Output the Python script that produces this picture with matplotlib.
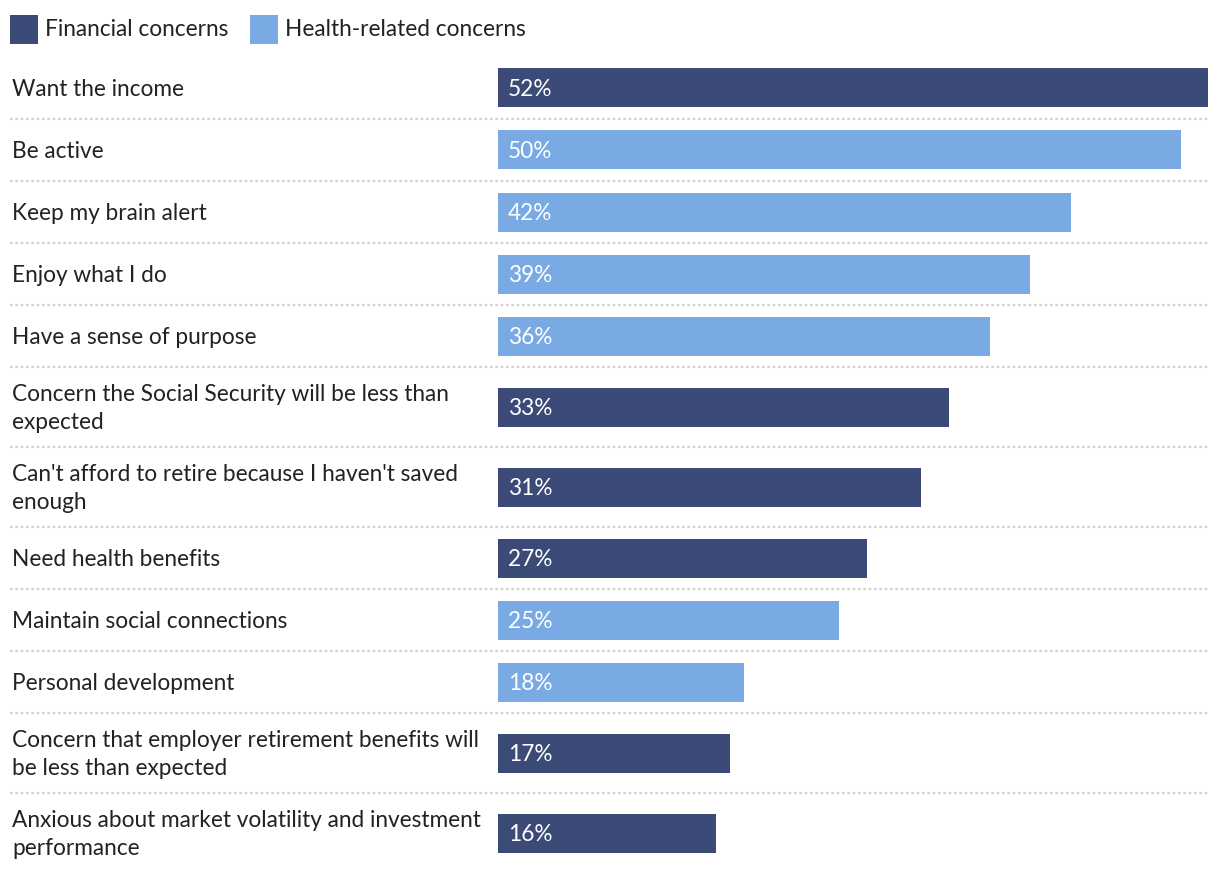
import matplotlib
matplotlib.use("Agg")
import matplotlib.pyplot as plt
from matplotlib.patches import Rectangle

# data
labels = [
    "Want the income",
    "Be active",
    "Keep my brain alert",
    "Enjoy what I do",
    "Have a sense of purpose",
    "Concern the Social Security will be less than\nexpected",
    "Can't afford to retire because I haven't saved\nenough",
    "Need health benefits",
    "Maintain social connections",
    "Personal development",
    "Concern that employer retirement benefits will\nbe less than expected",
    "Anxious about market volatility and investment\nperformance",
]
values = [52, 50, 42, 39, 36, 33, 31, 27, 25, 18, 17, 16]
groups = ["fin", "health", "health", "health", "health", "fin", "fin",
          "fin", "health", "health", "fin", "fin"]
legend_names = {"fin": "Financial concerns", "health": "Health-related concerns"}
colors = {"fin": "#3c4a77", "health": "#79aae4"}

FONT = "Lato"
FS = 16.3
TEXT = "#222222"
W, H = 1220, 872

fig = plt.figure(figsize=(W / 100, H / 100), dpi=100)
fig.patch.set_facecolor("white")

# background axes in pixel units for labels, separators, legend
bg = fig.add_axes([0, 0, 1, 1])
bg.set_xlim(0, W)
bg.set_ylim(H, 0)
bg.axis("off")

# bar axes
x0, x1 = 498, 1208
ax = fig.add_axes([x0 / W, 0, (x1 - x0) / W, 1])
ax.set_xlim(0, max(values))
ax.set_ylim(H, 0)
ax.axis("off")

# row layout (pixels)
top = 57
centers = []
bottoms = []
y = top
for lab in labels:
    h = 80 if "\n" in lab else 62
    centers.append(y + h / 2)
    y += h
    bottoms.append(y)

bar_h = 39
for lab, v, g, c, b in zip(labels, values, groups, centers, bottoms):
    ax.barh(c, v, height=bar_h, color=colors[g], linewidth=0)
    ax.text(0.73, c + 1.5, f"{v}%", color="white", fontsize=FS, family=FONT,
            va="center", ha="left")
    bg.text(12, c + 1.5, lab, color=TEXT, fontsize=FS, family=FONT,
            va="center", ha="left", linespacing=1.4)

for b in bottoms[:-1]:
    bg.plot([10, 1208], [b, b], color="#d0d0d0", lw=1.6,
            linestyle=(0, (1.2, 1.2)), solid_capstyle="butt")

# legend
for key, lx in zip(["fin", "health"], [10, 250]):
    bg.add_patch(Rectangle((lx, 15), 28, 29, color=colors[key], lw=0))
    bg.text(lx + 35, 29.5, legend_names[key], color=TEXT, fontsize=FS,
            family=FONT, va="center", ha="left")

fig.savefig("out.png", dpi=100)
